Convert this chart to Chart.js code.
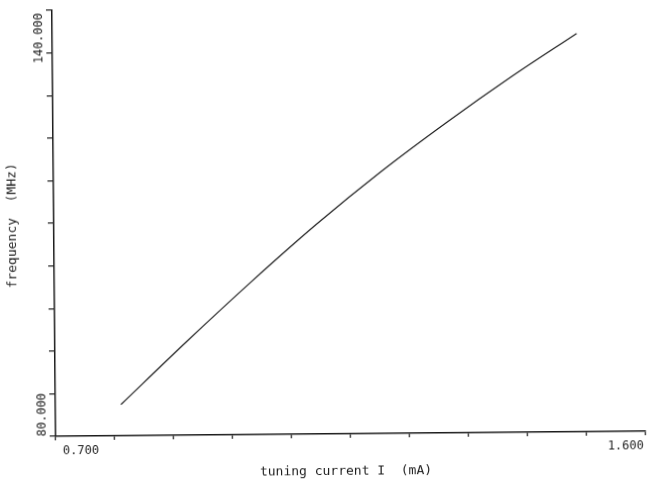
<!DOCTYPE html>
<html>
<head>
<meta charset="utf-8">
<script src="https://cdn.jsdelivr.net/npm/chart.js@4"></script>
<style>
  html, body { margin: 0; padding: 0; background: #fff; }
  #wrap { width: 647px; height: 484px; overflow: hidden; }
  #tuningChart { transform: rotate(-0.5deg); transform-origin: 50% 50%; }
</style>
</head>
<body>
<div id="wrap"><canvas id="tuningChart" width="647" height="484"></canvas></div>
<script>
// tuning current (mA) vs frequency (MHz)
const current = [0.8, 0.9, 1.0, 1.1, 1.2, 1.3, 1.4, 1.5]
const frequency = [84.4, 93.1, 101.5, 109.5, 116.9, 123.7, 130.1, 136.1]

const xRange = [0.7, 1.6]
const yRange = [80, 140]
const xTickLabels = ["0.700", "1.600"]
const yTickLabels = ["80.000", "140.000"]
const xTitle = "tuning current I  (mA)"
const yTitle = "frequency  (MHz)"

const ink = "#1c1c1c"

// only the end values get a label, like the plotter did
const endLabels = {
    id: "endLabels",
    afterDraw(chart) {
        const ctx = chart.ctx
        const xs = chart.scales.x
        const ys = chart.scales.y
        const area = chart.chartArea
        ctx.save()
        ctx.fillStyle = "#1e1e1e"
        ctx.textBaseline = "middle"
        ctx.font = '12px "DejaVu Sans Mono"'

        xRange.forEach((v, i) => {
            const px = xs.getPixelForValue(v)
            ctx.textAlign = i === 0 ? "left" : "right"
            ctx.fillText(xTickLabels[i], i === 0 ? px + 7 : px - 2, area.bottom + 15)
        })

        yRange.forEach((v, i) => {
            const py = ys.getPixelForValue(v)
            ctx.save()
            ctx.translate(40.5, i === 0 ? py : py + 2.5)
            ctx.rotate(-Math.PI / 2)
            ctx.textAlign = i === 0 ? "left" : "right"
            ctx.fillText(yTickLabels[i], 0, 0)
            ctx.restore()
        })

        ctx.font = '13px "DejaVu Sans Mono"'
        ctx.textAlign = "center"
        ctx.fillText(xTitle, (area.left + area.right) / 2 - 5, area.bottom + 38)

        ctx.save()
        ctx.translate(13, (area.top + area.bottom) / 2 + 2)
        ctx.rotate(-Math.PI / 2)
        ctx.fillText(yTitle, 0, 0)
        ctx.restore()

        ctx.restore()
    }
}

function axisStyle(tickLen) {
    return {
        type: "linear",
        ticks: { display: false, count: 11 },
        grid: {
            display: true,
            drawOnChartArea: false,
            drawTicks: true,
            tickLength: tickLen,
            color: ink,
            lineWidth: 1.2
        },
        border: { display: true, color: ink, width: 1.5 }
    }
}

document.addEventListener("DOMContentLoaded", () => {
    const ctx = document.getElementById("tuningChart")

    const xAxis = axisStyle(4)
    xAxis.min = xRange[0]
    xAxis.max = xRange[1]
    xAxis.afterFit = scale => { scale.height = 50 }

    const yAxis = axisStyle(6)
    yAxis.min = yRange[0]
    yAxis.max = yRange[1]
    yAxis.afterFit = scale => { scale.width = 54 }

    new Chart(ctx, {
        type: "line",
        data: {
            datasets: [{
                data: current.map((c, i) => ({ x: c, y: frequency[i] })),
                borderColor: ink,
                borderWidth: 1.2,
                pointRadius: 0,
                fill: false,
                cubicInterpolationMode: "monotone"
            }]
        },
        options: {
            responsive: false,
            animation: false,
            devicePixelRatio: 1,
            layout: { padding: { top: 8, right: 3, left: 0, bottom: 0 } },
            plugins: {
                legend: { display: false },
                tooltip: { enabled: false }
            },
            scales: { x: xAxis, y: yAxis }
        },
        plugins: [endLabels]
    })
})
</script>
</body>
</html>
